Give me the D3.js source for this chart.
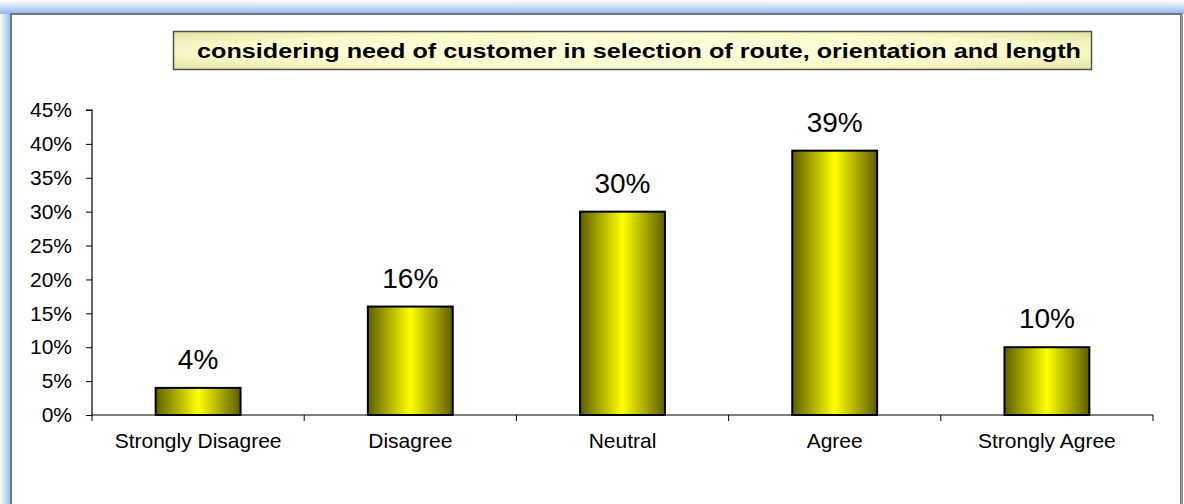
<!DOCTYPE html>
<html>
<head>
<meta charset="utf-8">
<script src="https://cdn.jsdelivr.net/npm/d3@7"></script>
<style>
  html, body { margin: 0; padding: 0; background: #fff; }
  svg { display: block; font-family: "Liberation Sans", Arial, sans-serif; }
</style>
</head>
<body>
<svg id="chart" width="1184" height="504"></svg>
<script>
const title = "considering need of customer in selection of route, orientation and length";
const categories = ["Strongly Disagree", "Disagree", "Neutral", "Agree", "Strongly Agree"];
const values = [4, 16, 30, 39, 10];
const yTicks = [0, 5, 10, 15, 20, 25, 30, 35, 40, 45];

const svg = d3.select("#chart");
const defs = svg.append("defs");

// glow gradients
const gl = defs.append("linearGradient").attr("id", "glowL").attr("x1", "0").attr("x2", "1").attr("y1", "0").attr("y2", "0");
gl.append("stop").attr("offset", "0").attr("stop-color", "#ffffff");
gl.append("stop").attr("offset", "1").attr("stop-color", "#8fb8ea");
const gt = defs.append("linearGradient").attr("id", "glowT").attr("x1", "0").attr("x2", "0").attr("y1", "0").attr("y2", "1");
gt.append("stop").attr("offset", "0").attr("stop-color", "#ffffff");
gt.append("stop").attr("offset", "1").attr("stop-color", "#8fb8ea");

// bar gradient
const bg = defs.append("linearGradient").attr("id", "barGrad").attr("x1", "0").attr("x2", "1").attr("y1", "0").attr("y2", "0");
bg.append("stop").attr("offset", "0").attr("stop-color", "#5e5e00");
bg.append("stop").attr("offset", "0.5").attr("stop-color", "#ffff00");
bg.append("stop").attr("offset", "1").attr("stop-color", "#5e5e00");

// title gradient
const tg = defs.append("radialGradient").attr("id", "titleGrad").attr("cx", "0.5").attr("cy", "0.5").attr("r", "0.75");
tg.append("stop").attr("offset", "0").attr("stop-color", "#ffffe0");
tg.append("stop").attr("offset", "0.6").attr("stop-color", "#fbfbcc");
tg.append("stop").attr("offset", "1").attr("stop-color", "#dcdc9a");

// outer glow and frame
svg.append("rect").attr("x", 0).attr("y", 0).attr("width", 11).attr("height", 504).attr("fill", "url(#glowL)");
svg.append("rect").attr("x", 0).attr("y", 0).attr("width", 1184).attr("height", 14).attr("fill", "url(#glowT)");
svg.append("rect").attr("x", 11).attr("y", 14).attr("width", 1170).attr("height", 500)
  .attr("fill", "#ffffff").attr("stroke", "#6f7780").attr("stroke-width", 2);
svg.append("line").attr("x1", 1182).attr("x2", 1182).attr("y1", 14).attr("y2", 504)
  .attr("stroke", "#9a9a9a").attr("stroke-width", 2);

// title box
svg.append("rect").attr("x", 173.5).attr("y", 31.5).attr("width", 918).attr("height", 38)
  .attr("fill", "url(#titleGrad)").attr("stroke", "#505050").attr("stroke-width", 1.5);
svg.append("text").attr("x", 639).attr("y", 58).attr("text-anchor", "middle")
  .attr("font-size", 21).attr("font-weight", "bold").attr("fill", "#000")
  .attr("textLength", 884).attr("lengthAdjust", "spacingAndGlyphs").text(title);

// scales
const x = d3.scaleBand().domain(categories).range([92, 1153]).padding(0);
const y = d3.scaleLinear().domain([0, 45]).range([415, 110]);

// y axis
const yAxis = d3.axisLeft(y).tickValues(yTicks).tickFormat(d => d + "%").tickSize(6).tickPadding(14);
const gy = svg.append("g").attr("transform", "translate(92,0)").call(yAxis);
gy.select(".domain").attr("stroke", "#000").attr("stroke-width", 1.2).attr("d", "M-6," + y(45) + "H0V" + y(0));
gy.selectAll(".tick line").attr("stroke", "#000");
gy.selectAll(".tick text").attr("font-size", 21).attr("font-family", "Liberation Sans, Arial, sans-serif").attr("fill", "#000");

// x axis: ticks at category boundaries
svg.append("line").attr("x1", 92).attr("x2", 1153).attr("y1", y(0)).attr("y2", y(0)).attr("stroke", "#000").attr("stroke-width", 1.2);
const bounds = categories.map(c => x(c)).concat([x.range()[1]]);
svg.append("g").selectAll("line").data(bounds).join("line")
  .attr("x1", d => d).attr("x2", d => d).attr("y1", y(0)).attr("y2", y(0) + 6)
  .attr("stroke", "#000").attr("stroke-width", 1);
svg.append("g").selectAll("text").data(categories).join("text")
  .attr("x", d => x(d) + x.bandwidth() / 2).attr("y", 448)
  .attr("text-anchor", "middle").attr("font-size", 21).attr("fill", "#000").text(d => d);

// bars
const bw = x.bandwidth() * 0.4;
svg.append("g").selectAll("rect").data(values).join("rect")
  .attr("x", (d, i) => x(categories[i]) + (x.bandwidth() - bw) / 2)
  .attr("y", d => y(d))
  .attr("width", bw)
  .attr("height", d => y(0) - y(d))
  .attr("fill", "url(#barGrad)")
  .attr("stroke", "#000").attr("stroke-width", 2);

// value labels
svg.append("g").selectAll("text").data(values).join("text")
  .attr("x", (d, i) => x(categories[i]) + x.bandwidth() / 2)
  .attr("y", d => y(d) - 19)
  .attr("text-anchor", "middle").attr("font-size", 28).attr("fill", "#000")
  .text(d => d + "%");
</script>
</body>
</html>
